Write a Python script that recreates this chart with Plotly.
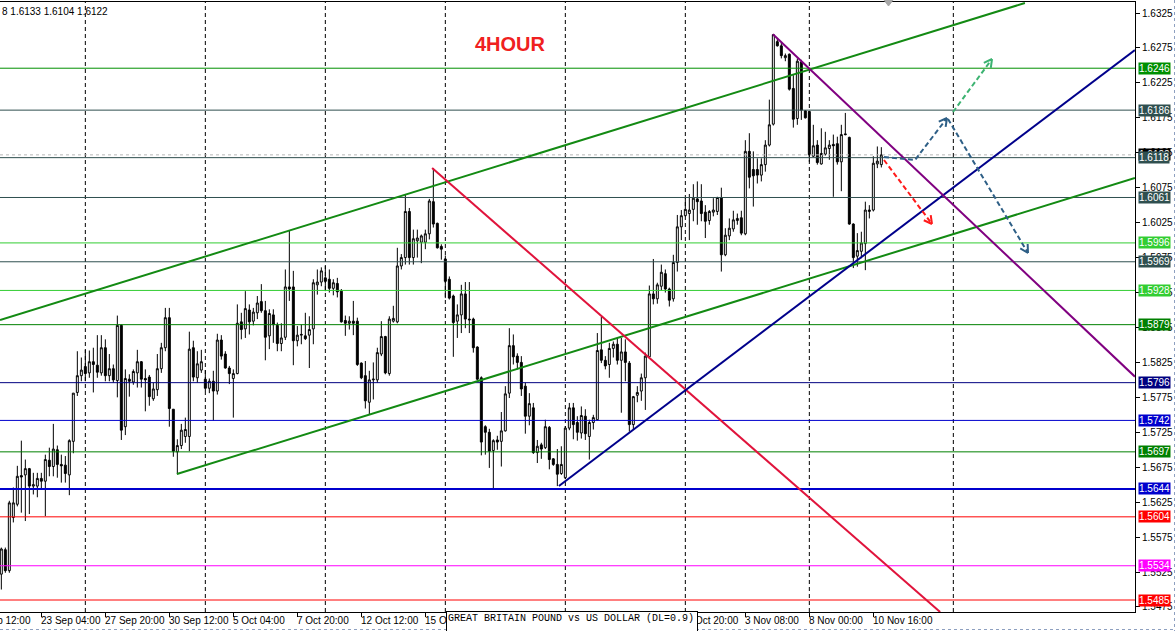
import math
import plotly.graph_objects as go

# ---------------- data (GBPUSD, H4) ----------------
opens = [1.5522,1.5557,1.5527,1.5603,1.5622,1.5663,1.5664,1.5673,1.5648,1.5648,
1.5659,1.5655,1.5685,1.5676,1.5700,1.5679,1.5678,1.5664,1.5712,1.5782,
1.5806,1.5819,1.5810,1.5826,1.5821,1.5810,1.5846,1.5806,1.5816,1.5799,
1.5878,1.5733,1.5801,1.5797,1.5810,1.5826,1.5802,1.5804,1.5773,1.5786,
1.5816,1.5846,1.5889,1.5758,1.5697,1.5706,1.5719,1.5719,1.5846,1.5803,
1.5814,1.5801,1.5788,1.5798,1.5784,1.5857,1.5837,1.5817,1.5802,1.5809,
1.5883,1.5873,1.5900,1.5884,1.5896,1.5912,1.5899,1.5863,1.5893,1.5878,
1.5852,1.5861,1.5933,1.5933,1.5856,1.5864,1.5863,1.5864,1.5873,1.5936,
1.5940,1.5946,1.5944,1.5931,1.5938,1.5927,1.5885,1.5881,1.5884,1.5884,
1.5824,1.5806,1.5768,1.5800,1.5800,1.5837,1.5862,1.5809,1.5884,1.5883,
1.5963,1.5975,1.6041,1.5975,1.5999,1.5997,1.5997,1.6009,1.6055,1.6024,
1.5991,1.5973,1.5944,1.5920,1.5884,1.5893,1.5923,1.5887,1.5887,1.5847,
1.5803,1.5733,1.5725,1.5699,1.5714,1.5712,1.5727,1.5781,1.5849,1.5834,
1.5825,1.5791,1.5748,1.5760,1.5696,1.5707,1.5703,1.5732,1.5687,1.5679,
1.5666,1.5660,1.5731,1.5760,1.5739,1.5724,1.5748,1.5719,1.5739,1.5743,
1.5843,1.5828,1.5822,1.5845,1.5851,1.5828,1.5840,1.5824,1.5736,1.5778,
1.5784,1.5803,1.5833,1.5923,1.5916,1.5934,1.5952,1.5930,1.5916,1.5968,
1.6019,1.6035,1.6038,1.6044,1.6059,1.6056,1.6040,1.6028,1.6040,1.6041,
1.6061,1.5979,1.6006,1.6016,1.6028,1.6032,1.6009,1.6127,1.6101,1.6101,
1.6093,1.6108,1.6136,1.6166,1.6284,1.6278,1.6261,1.6266,1.6217,1.6174,
1.6255,1.6185,1.6184,1.6120,1.6136,1.6109,1.6123,1.6131,1.6137,1.6138,
1.6112,1.6152,1.6147,1.6023,1.5977,1.5984,1.5995,1.6041,1.6043,1.6109,
1.6108]
highs = [1.5560,1.5560,1.5627,1.5646,1.5677,1.5713,1.5686,1.5674,1.5667,1.5667,
1.5667,1.5693,1.5703,1.5737,1.5706,1.5693,1.5691,1.5715,1.5781,1.5841,
1.5832,1.5843,1.5842,1.5846,1.5864,1.5864,1.5858,1.5837,1.5822,1.5892,
1.5879,1.5815,1.5808,1.5815,1.5843,1.5827,1.5815,1.5807,1.5796,1.5837,
1.5853,1.5903,1.5903,1.5758,1.5715,1.5737,1.5746,1.5869,1.5856,1.5841,
1.5843,1.5814,1.5802,1.5813,1.5866,1.5864,1.5841,1.5820,1.5815,1.5908,
1.5896,1.5927,1.5908,1.5903,1.5920,1.5937,1.5913,1.5901,1.5901,1.5882,
1.5881,1.5958,1.6013,1.5956,1.5877,1.5879,1.5896,1.5891,1.5944,1.5958,
1.5961,1.5963,1.5958,1.5944,1.5946,1.5930,1.5892,1.5891,1.5913,1.5889,
1.5825,1.5827,1.5813,1.5825,1.5846,1.5884,1.5863,1.5891,1.5906,1.5989,
1.5980,1.6066,1.6046,1.6015,1.6015,1.6008,1.6015,1.6059,1.6103,1.6025,
1.5994,1.5978,1.5948,1.5922,1.5908,1.5936,1.5940,1.5940,1.5889,1.5848,
1.5805,1.5735,1.5730,1.5715,1.5720,1.5754,1.5791,1.5874,1.5865,1.5838,
1.5834,1.5796,1.5781,1.5767,1.5714,1.5710,1.5743,1.5734,1.5688,1.5701,
1.5705,1.5734,1.5767,1.5767,1.5748,1.5762,1.5758,1.5743,1.5750,1.5867,
1.5890,1.5834,1.5853,1.5855,1.5860,1.5860,1.5858,1.5827,1.5777,1.5791,
1.5809,1.5839,1.5935,1.5973,1.5939,1.5965,1.5958,1.5932,1.5979,1.6036,
1.6043,1.6060,1.6066,1.6080,1.6084,1.6080,1.6050,1.6043,1.6060,1.6062,
1.6075,1.6017,1.6031,1.6042,1.6038,1.6042,1.6143,1.6153,1.6127,1.6117,
1.6117,1.6143,1.6201,1.6295,1.6289,1.6282,1.6267,1.6267,1.6236,1.6260,
1.6258,1.6186,1.6185,1.6165,1.6143,1.6160,1.6155,1.6143,1.6151,1.6148,
1.6165,1.6182,1.6148,1.6024,1.6010,1.6012,1.6055,1.6050,1.6120,1.6134,
1.6133]
lows = [1.5500,1.5524,1.5524,1.5596,1.5619,1.5610,1.5598,1.5608,1.5636,1.5632,
1.5643,1.5605,1.5662,1.5662,1.5660,1.5653,1.5653,1.5635,1.5695,1.5777,
1.5798,1.5798,1.5803,1.5782,1.5803,1.5806,1.5798,1.5798,1.5796,1.5775,
1.5714,1.5721,1.5776,1.5793,1.5789,1.5789,1.5755,1.5763,1.5770,1.5777,
1.5810,1.5841,1.5733,1.5690,1.5665,1.5701,1.5710,1.5698,1.5798,1.5796,
1.5810,1.5784,1.5781,1.5742,1.5779,1.5829,1.5816,1.5794,1.5746,1.5808,
1.5858,1.5860,1.5865,1.5878,1.5887,1.5896,1.5828,1.5844,1.5853,1.5841,
1.5841,1.5857,1.5913,1.5821,1.5848,1.5851,1.5857,1.5817,1.5851,1.5922,
1.5934,1.5927,1.5925,1.5921,1.5918,1.5882,1.5863,1.5872,1.5864,1.5820,
1.5801,1.5759,1.5751,1.5772,1.5796,1.5834,1.5808,1.5806,1.5882,1.5881,
1.5958,1.5965,1.5965,1.5965,1.5975,1.5967,1.5987,1.6001,1.6018,1.5988,
1.5972,1.5917,1.5915,1.5833,1.5860,1.5867,1.5874,1.5867,1.5839,1.5800,
1.5692,1.5693,1.5674,1.5645,1.5700,1.5676,1.5726,1.5774,1.5822,1.5815,
1.5777,1.5723,1.5735,1.5694,1.5681,1.5687,1.5701,1.5672,1.5677,1.5648,
1.5664,1.5658,1.5728,1.5715,1.5713,1.5716,1.5714,1.5686,1.5729,1.5742,
1.5824,1.5815,1.5803,1.5832,1.5822,1.5753,1.5798,1.5726,1.5729,1.5768,
1.5770,1.5757,1.5831,1.5908,1.5909,1.5928,1.5925,1.5905,1.5912,1.5955,
1.6000,1.6034,1.6000,1.6027,1.6022,1.6027,1.6003,1.6022,1.6034,1.6036,
1.5955,1.5977,1.6000,1.6012,1.6022,1.6007,1.6007,1.6074,1.6048,1.6081,
1.6084,1.6098,1.6134,1.6164,1.6277,1.6260,1.6256,1.6214,1.6161,1.6165,
1.6172,1.6174,1.6112,1.6119,1.6108,1.6108,1.6121,1.6115,1.6062,1.6108,
1.6070,1.6150,1.6022,1.5960,1.5962,1.5974,1.5957,1.6031,1.6041,1.6103,
1.6104]
closes = [1.5558,1.5527,1.5624,1.5624,1.5662,1.5661,1.5673,1.5648,1.5650,1.5659,
1.5655,1.5686,1.5676,1.5701,1.5679,1.5677,1.5666,1.5713,1.5781,1.5806,
1.5814,1.5809,1.5826,1.5822,1.5811,1.5846,1.5806,1.5816,1.5800,1.5878,
1.5728,1.5802,1.5798,1.5812,1.5826,1.5801,1.5800,1.5776,1.5787,1.5816,
1.5846,1.5889,1.5759,1.5698,1.5706,1.5728,1.5729,1.5844,1.5804,1.5823,
1.5826,1.5788,1.5798,1.5784,1.5857,1.5834,1.5817,1.5809,1.5809,1.5881,
1.5872,1.5902,1.5883,1.5897,1.5910,1.5899,1.5861,1.5895,1.5879,1.5852,
1.5860,1.5933,1.5930,1.5856,1.5864,1.5865,1.5859,1.5872,1.5939,1.5940,
1.5956,1.5941,1.5931,1.5939,1.5926,1.5883,1.5881,1.5884,1.5881,1.5822,
1.5803,1.5770,1.5800,1.5801,1.5839,1.5862,1.5810,1.5887,1.5888,1.5963,
1.5975,1.6041,1.5975,1.6002,1.6003,1.6006,1.6009,1.6056,1.6023,1.5989,
1.5987,1.5941,1.5917,1.5882,1.5893,1.5923,1.5887,1.5886,1.5846,1.5801,
1.5711,1.5725,1.5698,1.5713,1.5711,1.5727,1.5780,1.5849,1.5833,1.5825,
1.5787,1.5748,1.5766,1.5696,1.5705,1.5701,1.5733,1.5686,1.5679,1.5665,
1.5679,1.5731,1.5760,1.5736,1.5725,1.5749,1.5723,1.5739,1.5746,1.5842,
1.5828,1.5820,1.5845,1.5851,1.5828,1.5840,1.5825,1.5736,1.5776,1.5782,
1.5803,1.5834,1.5923,1.5916,1.5936,1.5954,1.5930,1.5914,1.5968,1.6019,
1.6035,1.6044,1.6043,1.6060,1.6055,1.6038,1.6027,1.6041,1.6043,1.6061,
1.5979,1.6007,1.6017,1.6029,1.6031,1.6010,1.6127,1.6090,1.6092,1.6093,
1.6108,1.6136,1.6165,1.6294,1.6278,1.6264,1.6264,1.6216,1.6173,1.6256,
1.6186,1.6175,1.6122,1.6135,1.6111,1.6124,1.6132,1.6136,1.6135,1.6112,
1.6151,1.6151,1.6023,1.5975,1.5985,1.5996,1.6043,1.6043,1.6110,1.6113,
1.6122]

time_label_bars = [-7.5, 10, 26, 42, 58, 74, 90, 106, 170, 186, 202, 218]
time_labels = ["20 Sep 12:00", "23 Sep 04:00", "27 Sep 20:00", "30 Sep 12:00", "5 Oct 04:00",
               "7 Oct 20:00", "12 Oct 12:00", "15 Oct 04:00", "29 Oct 20:00", "3 Nov 08:00",
               "8 Nov 00:00", "10 Nov 16:00"]
time_tick_bars = [10, 26, 42, 58, 74, 90, 106, 122, 138, 154, 170, 186, 202, 218]
week_grid_bars = [21, 51, 81, 111, 141, 171, 202, 238]

price_ticks = [1.5475, 1.5525, 1.5575, 1.5625, 1.5675, 1.5725, 1.5775, 1.5825, 1.5875,
               1.5925, 1.5975, 1.6025, 1.6075, 1.6125, 1.6175, 1.6225, 1.6275, 1.6325]

level_values = [1.6246, 1.6186, 1.6118, 1.6061, 1.5996, 1.5969, 1.5928, 1.5879,
                1.5796, 1.5742, 1.5697, 1.5644, 1.5604, 1.5534, 1.5485]
level_colors = ["#009000", "#2f4f4f", "#2f4f4f", "#2f4f4f", "#32cd32", "#2f4f4f", "#32cd32", "#008000",
                "#000080", "#0000cd", "#008000", "#0000cd", "#ff0000", "#ff00ff", "#ff0000"]
level_widths = [1, 1, 1, 1, 1, 1, 1, 1, 1, 1, 1, 2, 1, 1, 1]
bid_price = 1.6122

# trend lines: (bar0, price0, bar1, price1)
trend_lines = {
    "upper_channel": (-0.33, 1.58857, 255.9, 1.63393),
    "lower_channel": (43.9, 1.56653, 283.4, 1.60889),
    "red_down": (107.7, 1.61032, 234.7, 1.54678),
    "navy_up": (139.4, 1.56481, 283.4, 1.62720),
    "purple_down": (192.9, 1.62945, 283.4, 1.58046),
}
trend_styles = {
    "upper_channel": ("#138a13", 2),
    "lower_channel": ("#138a13", 2),
    "red_down": ("#e0143c", 2),
    "navy_up": ("#00008b", 2),
    "purple_down": ("#800080", 2),
}

# ---------------- geometry ----------------
W, H = 1176, 631
PL, PR, PT, PB = 0, 1135, 2, 612          # plot area in pixels
PX_PER_BAR = 4.0
BAR0_PX = 1.33
y_top = 1.6325 + (13 - PT) * 0.0001431
y_bot = y_top - (PB - PT) * 0.0001431
x_lo = (PL - BAR0_PX) / PX_PER_BAR
x_hi = (PR - BAR0_PX) / PX_PER_BAR


def pxp(x, y):
    return (x - PL) / (PR - PL), (PB - y) / (PB - PT)


def bar_to_px(k):
    return BAR0_PX + PX_PER_BAR * k


fig = go.Figure()
fig.add_trace(go.Candlestick(
    x=list(range(len(opens))), open=opens, high=highs, low=lows, close=closes,
    increasing=dict(line=dict(color="black", width=1), fillcolor="white"),
    decreasing=dict(line=dict(color="black", width=1), fillcolor="black"),
    whiskerwidth=0, showlegend=False, hoverinfo="skip"))

shapes = []
annotations = []

# weekly dashed grid
for k in week_grid_bars:
    shapes.append(dict(type="line", xref="x", yref="paper", x0=k, x1=k, y0=0, y1=1,
                       line=dict(color="black", width=1, dash="4px,3px"), layer="below"))

# bid line
shapes.append(dict(type="line", xref="paper", yref="y", x0=0, x1=1, y0=bid_price, y1=bid_price,
                   line=dict(color="#b8b8b8", width=1, dash="dot"), layer="above"))

# horizontal levels
for v, c, w in zip(level_values, level_colors, level_widths):
    shapes.append(dict(type="line", xref="paper", yref="y", x0=0, x1=1, y0=v, y1=v,
                       line=dict(color=c, width=w), layer="above"))

# trend lines
for name, (k0, p0, k1, p1) in trend_lines.items():
    col, wd = trend_styles[name]
    shapes.append(dict(type="line", xref="x", yref="y", x0=k0, y0=p0, x1=k1, y1=p1,
                       line=dict(color=col, width=wd), layer="above"))


def dashed_arrow(pts, color):
    path = ""
    for i, (x, y) in enumerate(pts):
        px_, py_ = pxp(x, y)
        path += ("M" if i == 0 else "L") + f"{px_:.5f},{py_:.5f} "
    shapes.append(dict(type="path", xref="paper", yref="paper", path=path,
                       line=dict(color=color, width=2, dash="5px,3px")))
    (xa, ya), (xb, yb) = pts[-2], pts[-1]
    ang = math.atan2(yb - ya, xb - xa)
    hp = ""
    for s in (1, -1):
        a = ang + math.pi + s * 0.5
        hx, hy = xb + 9 * math.cos(a), yb + 9 * math.sin(a)
        p1 = pxp(hx, hy)
        p2 = pxp(xb, yb)
        hp += f"M{p1[0]:.5f},{p1[1]:.5f} L{p2[0]:.5f},{p2[1]:.5f} "
    shapes.append(dict(type="path", xref="paper", yref="paper", path=hp,
                       line=dict(color=color, width=2)))


dashed_arrow([(884, 160), (932, 224)], "#ff1a1a")
dashed_arrow([(884, 157), (915, 160), (947, 118)], "#2e5f86")
dashed_arrow([(948, 119), (1028, 253)], "#2e5f86")
dashed_arrow([(953, 112), (992, 59)], "#3cb371")

# small gray shift marker at top
a, b, c = pxp(884, 0), pxp(893, 0), pxp(888.5, 6)
shapes.append(dict(type="path", xref="paper", yref="paper",
                   path=f"M{a[0]},{a[1]} L{b[0]},{b[1]} L{c[0]},{c[1]} Z",
                   fillcolor="#a8a8a8", line=dict(color="#a8a8a8", width=1)))

# window border (dotted)
a, b = pxp(0, 629.5), pxp(1174, 629.5)
shapes.append(dict(type="line", xref="paper", yref="paper", x0=a[0], y0=a[1], x1=b[0], y1=b[1],
                   line=dict(color="#8ea0c0", width=1, dash="dot")))
a, b = pxp(1174.5, 0), pxp(1174.5, 631)
shapes.append(dict(type="line", xref="paper", yref="paper", x0=a[0], y0=a[1], x1=b[0], y1=b[1],
                   line=dict(color="#8ea0c0", width=1, dash="dot")))

# time labels (left aligned at tick)
for k, t in zip(time_label_bars, time_labels):
    xp, yp = pxp(bar_to_px(k), 620.5)
    annotations.append(dict(x=xp, y=yp, xref="paper", yref="paper", text=t, showarrow=False,
                            xanchor="left", yanchor="middle", xshift=-2,
                            font=dict(family="Liberation Sans", size=10, color="black")))

# description box at bottom (drawn on top of the labels it hides)
xp, yp = pxp(446, 611)
annotations.append(dict(x=xp, y=yp, xref="paper", yref="paper",
                        text="GREAT BRITAIN POUND vs US DOLLAR (DL=0.9)", showarrow=False,
                        xanchor="left", yanchor="top", align="left", valign="top",
                        width=248, height=30, bgcolor="white", bordercolor="black",
                        borderwidth=1, borderpad=1,
                        font=dict(family="Liberation Mono", size=10, color="black")))

# header text
xp, yp = pxp(0, 11)
annotations.append(dict(x=xp, y=yp, xref="paper", yref="paper", text="8 1.6133 1.6104 1.6122",
                        showarrow=False, xanchor="left", yanchor="middle",
                        font=dict(family="Liberation Sans", size=10, color="black")))
xp, yp = pxp(510, 44)
annotations.append(dict(x=xp, y=yp, xref="paper", yref="paper", text="<b>4HOUR</b>",
                        showarrow=False, xanchor="center", yanchor="middle",
                        font=dict(family="Liberation Sans", size=20, color="#f02020")))

# price labels on the right axis
annotations.append(dict(x=1, y=bid_price, xref="paper", yref="y", text=f"{bid_price:.4f}",
                        showarrow=False, xanchor="left", yanchor="middle", xshift=3,
                        bgcolor="black", borderpad=0,
                        font=dict(family="Liberation Sans", size=10, color="white")))
for v, c in zip(level_values, level_colors):
    annotations.append(dict(x=1, y=v, xref="paper", yref="y", text=f"{v:.4f}",
                            showarrow=False, xanchor="left", yanchor="middle", xshift=3,
                            bgcolor=c, borderpad=0,
                            font=dict(family="Liberation Sans", size=10, color="white")))

fig.update_layout(
    width=W, height=H, autosize=False,
    margin=dict(l=PL, r=W - PR, t=PT, b=H - PB, pad=0, autoexpand=False),
    paper_bgcolor="white", plot_bgcolor="white",
    showlegend=False, shapes=shapes, annotations=annotations,
    font=dict(family="Liberation Sans", size=10, color="black"),
    xaxis=dict(range=[x_lo, x_hi], showgrid=False, zeroline=False, showline=True, mirror=True,
               linecolor="black", linewidth=1, ticks="outside", ticklen=4, tickcolor="black",
               tickvals=time_tick_bars, showticklabels=False, rangeslider=dict(visible=False),
               fixedrange=True),
    yaxis=dict(range=[y_bot, y_top], side="right", showgrid=False, zeroline=False, showline=True,
               mirror=True, linecolor="black", linewidth=1, ticks="outside", ticklen=4,
               tickcolor="black", tickvals=price_ticks, ticktext=[f"{t:.4f}" for t in price_ticks],
               tickfont=dict(family="Liberation Sans", size=10, color="black"), fixedrange=True),
)

fig.write_html("out.html", config={"displayModeBar": False},
               post_script="document.body.style.margin='0';document.body.style.overflow='hidden';")
